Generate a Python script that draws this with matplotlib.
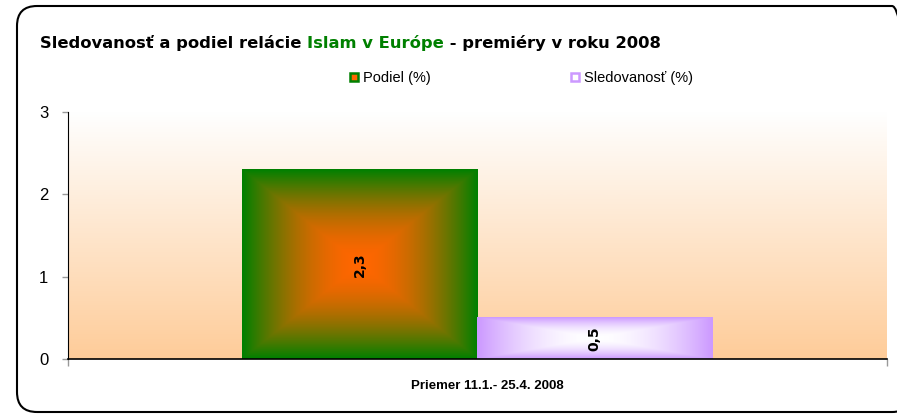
import numpy as np
import matplotlib
matplotlib.use("Agg")
import matplotlib.pyplot as plt
import matplotlib.transforms as mtransforms
from matplotlib.colors import LinearSegmentedColormap
from matplotlib.lines import Line2D
from matplotlib.patches import FancyBboxPatch

# data
categories = ["Priemer 11.1.- 25.4. 2008"]
series_names = ["Podiel (%)", "Sledovanosť (%)"]
podiel = [2.3]
sledovanost = [0.5]
y_ticks = [0, 1, 2, 3]

W, H = 897, 417
fig = plt.figure(figsize=(W / 100, H / 100), dpi=100)
fig.patch.set_facecolor("white")

# plot area (pixels measured on the reference)
left, right, top, bottom = 67.7, 886.7, 112, 359
ax = fig.add_axes([left / W, 1 - bottom / H, (right - left) / W, (bottom - top) / H])
ax.set_facecolor("none")

# background gradient white -> peach
bg = LinearSegmentedColormap.from_list("bg", ["#FECC99", "#FFFFFF"])
grad = np.linspace(0, 1, 256).reshape(-1, 1)
ax.imshow(grad, cmap=bg, origin="lower", extent=[0, 1, 0, 1],
          transform=ax.transAxes, aspect="auto", zorder=0)

x = np.arange(len(categories))
bw = 0.287
bars1 = ax.bar(x - bw / 2, podiel, bw, color="#008000", zorder=2)
bars2 = ax.bar(x + bw / 2, sledovanost, bw, color="#CC99FF", zorder=2)


def rect_gradient(bars, center, edge, gamma=1.6):
    cmap = LinearSegmentedColormap.from_list("g", [center, edge])
    u = np.linspace(-1, 1, 200)
    uu, vv = np.meshgrid(u, u)
    val = np.maximum(np.abs(uu), np.abs(vv)) ** gamma
    for b in bars:
        x0, y0 = b.get_x(), b.get_y()
        ax.imshow(val, cmap=cmap, extent=[x0, x0 + b.get_width(), y0, y0 + b.get_height()],
                  aspect="auto", interpolation="bilinear", zorder=3)


rect_gradient(bars1, "#FF6600", "#008000", 1.8)
rect_gradient(bars2, "#FFFFFF", "#CC99FF", 1.8)

for bars, vals in [(bars1, podiel), (bars2, sledovanost)]:
    for b, v in zip(bars, vals):
        ax.text(b.get_x() + b.get_width() / 2, b.get_height() / 2,
                f"{v:.1f}".replace(".", ","), rotation=90, ha="center", va="center",
                fontsize=10, fontweight="bold", family="DejaVu Sans", zorder=4)

ax.set_xlim(-0.5, len(categories) - 0.5)
ax.set_ylim(0, 3)
ax.set_yticks(y_ticks)
ax.set_yticklabels([str(t) for t in y_ticks], family="Liberation Sans", fontsize=12)
ax.tick_params(axis="y", direction="out", length=4, width=1, color="#999999", pad=10)

ax.set_xticks(x)
ax.set_xticklabels(categories, family="Liberation Sans", fontsize=9.5, fontweight="bold")
ax.tick_params(axis="x", length=0, pad=15)
shift = mtransforms.ScaledTranslation(10 / 100, 0, fig.dpi_scale_trans)
for lab in ax.get_xticklabels():
    lab.set_transform(lab.get_transform() + shift)
ax.set_xticks([-0.5, len(categories) - 0.5], minor=True)
ax.tick_params(axis="x", which="minor", direction="out", length=5, width=1, color="#999999")

for s in ["top", "right"]:
    ax.spines[s].set_visible(False)
ax.spines["left"].set_color("black")
ax.spines["bottom"].set_color("black")
ax.spines["left"].set_zorder(5)
ax.spines["bottom"].set_zorder(5)
ax.spines["bottom"].set_linewidth(1.2)

# title in three pieces
tkw = dict(fontsize=11.8, fontweight="bold", family="DejaVu Sans", va="baseline")
t1 = fig.text(40 / W, 1 - 48 / H, "Sledovanosť a podiel relácie ", color="black", **tkw)
t2 = fig.text(0, 0, "Islam v Európe", color="#008000", **tkw)
t3 = fig.text(0, 0, " - premiéry v roku 2008", color="black", **tkw)
fig.canvas.draw()
r = fig.canvas.get_renderer()
inv = fig.transFigure.inverted()
e1 = t1.get_window_extent(r)
t2.set_position((inv.transform((e1.x1, 0))[0], 1 - 48 / H))
e2 = t2.get_window_extent(r)
t3.set_position((inv.transform((e2.x1, 0))[0], 1 - 48 / H))

# legend
handles = [
    Line2D([], [], linestyle="none", marker="s", markersize=6,
           markerfacecolor="#FF6600", markeredgecolor="#008000", markeredgewidth=1.8),
    Line2D([], [], linestyle="none", marker="s", markersize=6,
           markerfacecolor="#FFFFFF", markeredgecolor="#CC99FF", markeredgewidth=1.8),
]
fig.legend(handles, series_names, loc="center", bbox_to_anchor=(521 / W, 1 - 78 / H),
           ncol=2, frameon=False, columnspacing=9.6, handlelength=0.6, handletextpad=0.3,
           prop={"family": "Liberation Sans", "size": 10.5})

# rounded frame
frame = FancyBboxPatch((17 / 100, (H - 412) / 100), (912 - 17) / 100, (412 - 6) / 100,
                       boxstyle="round,pad=0,rounding_size=0.2",
                       transform=fig.dpi_scale_trans, facecolor="none",
                       edgecolor="black", linewidth=1.5, zorder=10)
fig.add_artist(frame)

fig.savefig("out.png", dpi=100)
